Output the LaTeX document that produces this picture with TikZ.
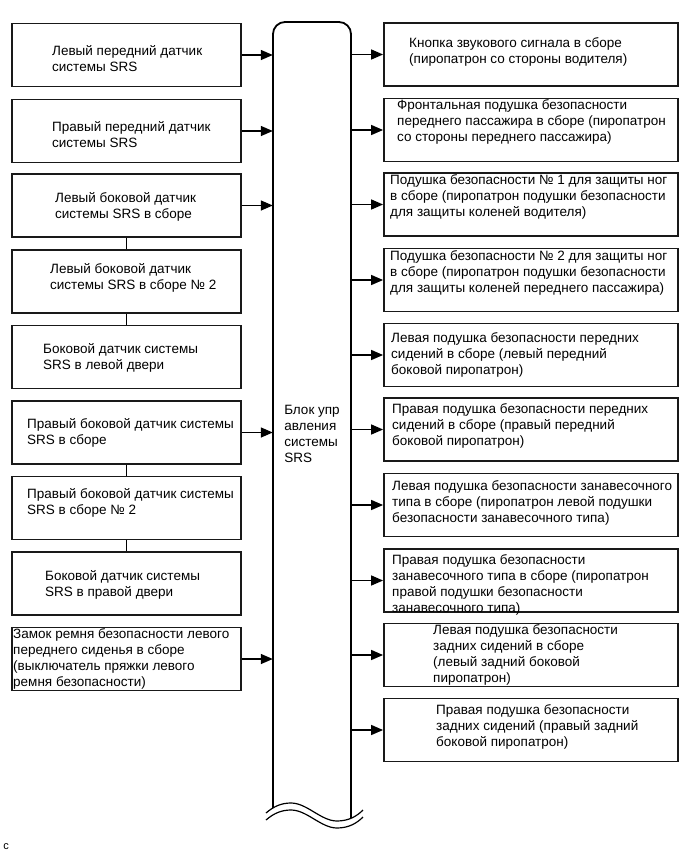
\documentclass[tikz,border=0pt]{standalone}
\usepackage{fontspec}
\setmainfont{Liberation Sans}
\usetikzlibrary{arrows.meta}

\begin{document}
\begin{tikzpicture}[x=1pt,y=-1pt, lbox/.style={draw=black!90,line width=1.8pt,minimum width=229pt,minimum height=63pt,inner sep=0pt}, rbox/.style={lbox,minimum width=294pt}, txt/.style={anchor=west,align=left,inner sep=0pt,font=\fontsize{13.5}{16}\selectfont}, arr/.style={-{Triangle[length=12pt,width=10pt]},line width=1.4pt}, link/.style={line width=1.4pt}, ecubox/.style={minimum width=78pt,inner sep=0pt,align=left,font=\fontsize{13.5}{16}\selectfont}]
  \useasboundingbox (0,0) rectangle (690,854);
  \node[lbox] (l1) at (126.5,55) {};
  \node[lbox] (l2) at (126.5,131) {};
  \node[lbox] (l3) at (126.5,205.5) {};
  \node[lbox] (l4) at (126.5,281.5) {};
  \node[lbox] (l5) at (126.5,357) {};
  \node[lbox] (l6) at (126.5,432.5) {};
  \node[lbox] (l7) at (126.5,508) {};
  \node[lbox] (l8) at (126.5,583.5) {};
  \node[lbox] (l9) at (126.5,659) {};
  \node[txt] (l1t) at (52,58.5) {Левый передний датчик\\системы SRS};
  \node[txt] (l2t) at (52,135) {Правый передний датчик\\системы SRS};
  \node[txt] (l3t) at (55,207) {Левый боковой датчик\\системы SRS в сборе};
  \node[txt] (l4t) at (50,278) {Левый боковой датчик\\системы SRS в сборе № 2};
  \node[txt] (l5t) at (43,358) {Боковой датчик системы\\SRS в левой двери};
  \node[txt] (l6t) at (27,433) {Правый боковой датчик системы\\SRS в сборе};
  \node[txt] (l7t) at (27,503) {Правый боковой датчик системы\\SRS в сборе № 2};
  \node[txt] (l8t) at (45,585) {Боковой датчик системы\\SRS в правой двери};
  \node[txt] (l9t) at (13,659) {Замок ремня безопасности левого\\переднего сиденья в сборе\\(выключатель пряжки левого\\ремня безопасности)};
  \foreach \a/\b in {l3/l4,l4/l5,l6/l7,l7/l8}{\draw[link] (\a) -- (\b);}
  \node[ecubox] (ecu) at (312,434) {Блок упр\\авления\\системы\\SRS};
  \draw[line width=1.8pt,rounded corners=12] (273,808) -- (273,22) -- (351,22) -- (351,818);
  \draw[line width=1.2pt] (266,813) .. controls (274,806) and (282,803) .. (291,803) .. controls (307,803) and (321,821) .. (337,821) .. controls (349,821) and (357,816) .. (363,810);
  \draw[line width=1.2pt,shift={(0,7)}] (266,813) .. controls (274,806) and (282,803) .. (291,803) .. controls (307,803) and (321,821) .. (337,821) .. controls (349,821) and (357,816) .. (363,810);
  \foreach \n in {l1,l2,l3,l6,l9}{\draw[arr] (\n) -- (\n -| ecu.west);}
  \node[rbox] (r1) at (531,54.5) {};
  \node[rbox] (r2) at (531,130) {};
  \node[rbox] (r3) at (531,204.5) {};
  \node[rbox] (r4) at (531,280) {};
  \node[rbox] (r5) at (531,355) {};
  \node[rbox] (r6) at (531,429.5) {};
  \node[rbox] (r7) at (531,505) {};
  \node[rbox] (r8) at (531,580.5) {};
  \node[rbox] (r9) at (531,655) {};
  \node[rbox] (r10) at (531,730) {};
  \node[txt] (r1t) at (409,52) {Кнопка звукового сигнала в сборе\\(пиропатрон со стороны водителя)};
  \node[txt] (r2t) at (397,122) {Фронтальная подушка безопасности\\переднего пассажира в сборе (пиропатрон\\со стороны переднего пассажира)};
  \node[txt] (r3t) at (390,197) {Подушка безопасности № 1 для защиты ног\\в сборе (пиропатрон подушки безопасности\\для защиты коленей водителя)};
  \node[txt] (r4t) at (390,273) {Подушка безопасности № 2 для защиты ног\\в сборе (пиропатрон подушки безопасности\\для защиты коленей переднего пассажира)};
  \node[txt] (r5t) at (391,355) {Левая подушка безопасности передних\\сидений в сборе (левый передний\\боковой пиропатрон)};
  \node[txt] (r6t) at (392,426) {Правая подушка безопасности передних\\сидений в сборе (правый передний\\боковой пиропатрон)};
  \node[txt] (r7t) at (392,503) {Левая подушка безопасности занавесочного\\типа в сборе (пиропатрон левой подушки\\безопасности занавесочного типа)};
  \node[txt] (r8t) at (392,585) {Правая подушка безопасности\\занавесочного типа в сборе (пиропатрон\\правой подушки безопасности\\занавесочного типа)};
  \node[txt] (r9t) at (433,655) {Левая подушка безопасности\\задних сидений в сборе\\(левый задний боковой\\пиропатрон)};
  \node[txt] (r10t) at (436,727) {Правая подушка безопасности\\задних сидений (правый задний\\боковой пиропатрон)};
  \foreach \n in {r1,r2,r3,r4,r5,r6,r7,r8,r9,r10}{\draw[arr] (\n -| ecu.east) -- (\n);}
  \node[inner sep=0pt,font=\fontsize{11}{13}\selectfont] (tag) at (6,847) {c};
\end{tikzpicture}
\end{document}
